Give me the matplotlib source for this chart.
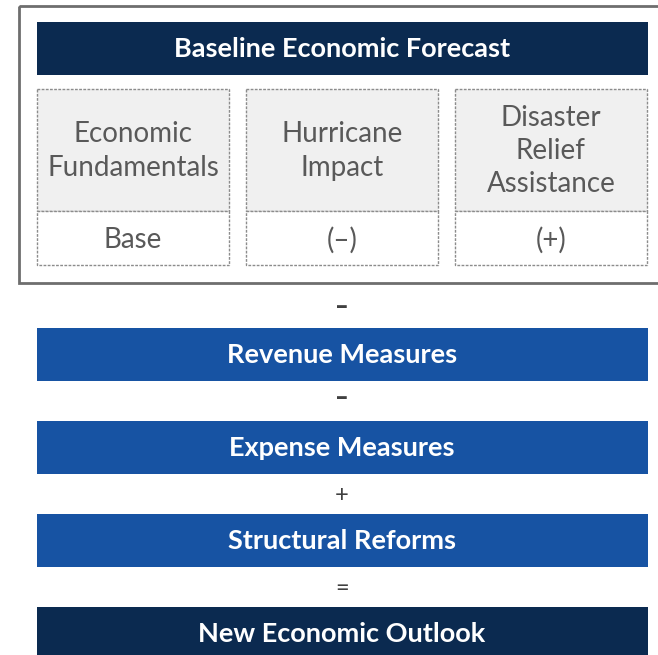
import matplotlib.pyplot as plt
from matplotlib.patches import Rectangle

# content
title = "Baseline Economic Forecast"
components = ["Economic\nFundamentals", "Hurricane\nImpact", "Disaster\nRelief\nAssistance"]
effects = ["Base", "(\u2013)", "(+)"]
steps = ["Revenue Measures", "Expense Measures", "Structural Reforms", "New Economic Outlook"]
operators = ["\u2013", "\u2013", "+", "="]

navy = "#0B2A50"
blue = "#1753A3"
gray_txt = "#595959"

plt.rcParams['font.family'] = ['Lato', 'DejaVu Sans']

fig = plt.figure(figsize=(6.58, 6.55), dpi=100)
ax = fig.add_axes([0, 0, 1, 1])
ax.set_xlim(0, 658)
ax.set_ylim(655, 0)
ax.axis('off')

# outer frame
ax.add_patch(Rectangle((19, 6), 660, 277, fill=False, ec="#6e6e6e", lw=2))

# header
ax.add_patch(Rectangle((37, 22), 611, 53, fc=navy, ec='none'))
ax.text(342, 49, title, color='white', fontsize=19.5, fontweight='bold',
        ha='center', va='center')

# three component boxes
box_x = [37, 246, 455]
box_w = 192
for i, (lab, eff) in enumerate(zip(components, effects)):
    x = box_x[i]
    ax.add_patch(Rectangle((x, 89), box_w, 122, fc="#F0F0F0", ec="#8c8c8c",
                           lw=1, ls=(0, (2, 1))))
    ax.add_patch(Rectangle((x, 211), box_w, 54, fc="white", ec="#8c8c8c",
                           lw=1, ls=(0, (2, 1))))
    ax.text(x + box_w / 2, 151, lab, color=gray_txt, fontsize=20,
            ha='center', va='center', linespacing=1.35)
    ax.text(x + box_w / 2, 240, eff, color=gray_txt, fontsize=20,
            ha='center', va='center')

# lower chain
bar_y = [328, 421, 514, 607]
op_y = [307, 398, 495, 588]
for i, (lab, op) in enumerate(zip(steps, operators)):
    col = navy if i == len(steps) - 1 else blue
    ax.add_patch(Rectangle((37, bar_y[i]), 611, 53, fc=col, ec='none'))
    ax.text(342, bar_y[i] + 27, lab, color='white', fontsize=19.5,
            fontweight='bold', ha='center', va='center')
    ax.text(342, op_y[i], op, color="#404040", fontsize=17,
            fontweight='heavy' if op == '\u2013' else 'normal',
            ha='center', va='center')

fig.savefig("out.png", dpi=100)
